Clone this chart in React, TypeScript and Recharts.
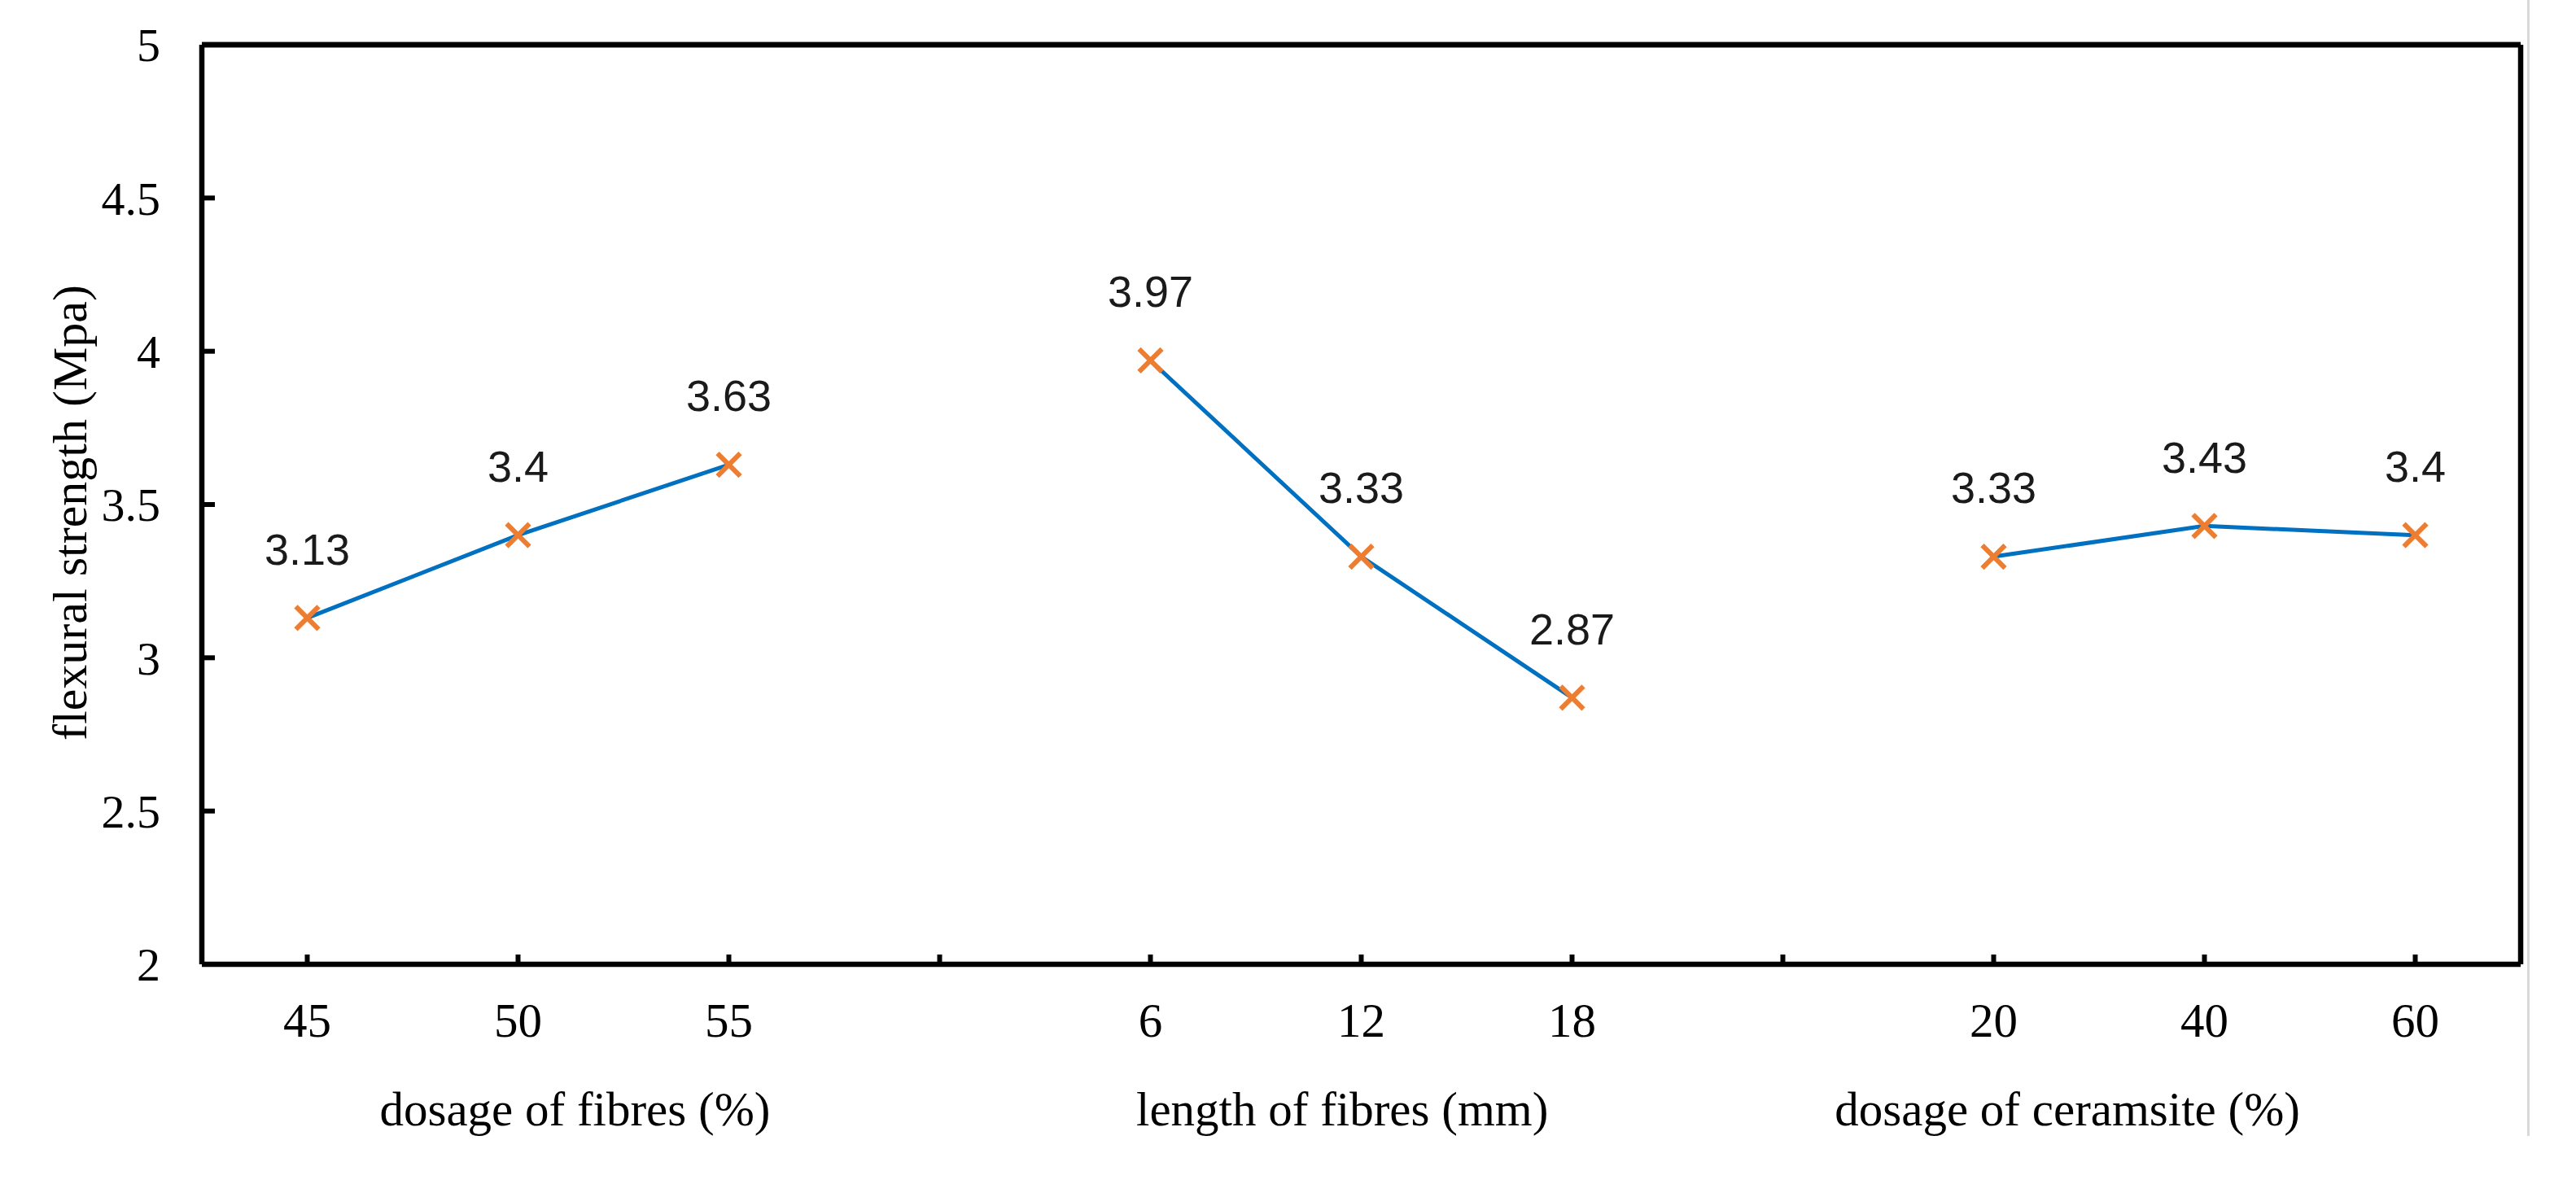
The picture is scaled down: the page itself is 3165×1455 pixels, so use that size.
import { ComposedChart, Line, XAxis, YAxis, LabelList, ReferenceLine } from 'recharts'

const categories = ['45', '50', '55', '', '6', '12', '18', '', '20', '40', '60']
const strength = [3.13, 3.4, 3.63, null, 3.97, 3.33, 2.87, null, 3.33, 3.43, 3.4]
const yTicks = [2, 2.5, 3, 3.5, 4, 4.5, 5]
const groupTitles = ['dosage of fibres (%)', 'length of fibres (mm)', 'dosage of ceramsite (%)']
// centre of each group title, in category-index units
const groupTitleAt = [1.27, 4.91, 8.35]

const data = categories.map((c, i) => ({ key: 'c' + i, label: c, v: strength[i] }))

const BLUE = '#0070c0'
const ORANGE = '#ed7d31'
const SERIF = '"Liberation Serif", "Times New Roman", serif'
const SANS = '"Liberation Sans", Arial, sans-serif'
const AXIS = { stroke: '#000', strokeWidth: 6.5 }

function YTick({ x, y, payload }: any) {
  const ax = x + 51
  return (
    <g>
      <line x1={ax} x2={ax + 16} y1={y} y2={y} stroke="#000" strokeWidth={6} />
      <text x={x} y={y} dy="0.35em" textAnchor="end" fontFamily={SERIF} fontSize={58} fill="#000">
        {payload.value}
      </text>
    </g>
  )
}

// category tick: inner tick mark, value label, and the group title under the group
function XTick({ x, y, index, width }: any) {
  const ay = y - 50
  const band = (width || 2849) / categories.length
  const g = groupTitleAt.findIndex((at) => Math.round(at) === index)
  return (
    <g>
      <line x1={x} x2={x} y1={ay} y2={ay - 12} stroke="#000" strokeWidth={6} />
      <text x={x} y={y} dy="0.66em" textAnchor="middle" fontFamily={SERIF} fontSize={59} fill="#000">
        {categories[index]}
      </text>
      {g >= 0 && (
        <text
          x={x + (groupTitleAt[g] - index) * band}
          y={y + 148}
          textAnchor="middle"
          fontFamily={SERIF}
          fontSize={59}
          fill="#000"
        >
          {groupTitles[g]}
        </text>
      )}
    </g>
  )
}

function Cross({ cx, cy, payload }: any) {
  if (payload?.v == null || cx == null || cy == null) return <g />
  const s = 14
  return (
    <g stroke={ORANGE} strokeWidth={6}>
      <line x1={cx - s} y1={cy - s} x2={cx + s} y2={cy + s} />
      <line x1={cx - s} y1={cy + s} x2={cx + s} y2={cy - s} />
    </g>
  )
}

function ValueLabel({ x, y, value }: any) {
  if (value == null) return null
  return (
    <text x={x} y={y - 85} dy="0.36em" textAnchor="middle" fontFamily={SANS} fontSize={54} fill="#1a1a1a">
      {value}
    </text>
  )
}

function YTitle({ viewBox }: any) {
  const cx = viewBox.x + 37
  const cy = viewBox.y + viewBox.height / 2 + 10
  return (
    <text
      transform={`translate(${cx},${cy}) rotate(-90)`}
      textAnchor="middle"
      dy="0.35em"
      fontFamily={SERIF}
      fontSize={60}
      fill="#000"
    >
      flexural strength (Mpa)
    </text>
  )
}

export default function App() {
  return (
    <div style={{ position: 'absolute', left: 0, top: 0, width: 3165, height: 1455, background: '#fff' }}>
      <ComposedChart
        width={3165}
        height={1455}
        data={data}
        margin={{ top: 54, right: 67, left: 48, bottom: 20 }}
      >
        <XAxis
          dataKey="key"
          scale="band"
          interval={0}
          height={250}
          axisLine={AXIS}
          tickLine={false}
          tickSize={0}
          tickMargin={50}
          tick={<XTick />}
        />
        <XAxis xAxisId="top" orientation="top" type="number" domain={[0, 1]} height={1} tick={false} tickLine={false} axisLine={AXIS} />
        <YAxis
          domain={[2, 5]}
          ticks={yTicks}
          interval={0}
          width={200}
          axisLine={AXIS}
          tickLine={false}
          tickSize={0}
          tickMargin={51}
          tick={<YTick />}
          label={{ content: <YTitle /> }}
        />
        <YAxis yAxisId="right" orientation="right" domain={[0, 1]} width={1} tick={false} tickLine={false} axisLine={AXIS} />
        <ReferenceLine y={5} stroke="#000" strokeWidth={6.5} />
        <Line
          dataKey="v"
          stroke={BLUE}
          strokeWidth={5}
          dot={<Cross />}
          activeDot={false}
          connectNulls={false}
          isAnimationActive={false}
        >
          <LabelList dataKey="v" content={<ValueLabel />} />
        </Line>
      </ComposedChart>
      <div style={{ position: 'absolute', left: 3105, top: 0, width: 3, height: 1396, background: '#d9d9d9' }} />
    </div>
  )
}
